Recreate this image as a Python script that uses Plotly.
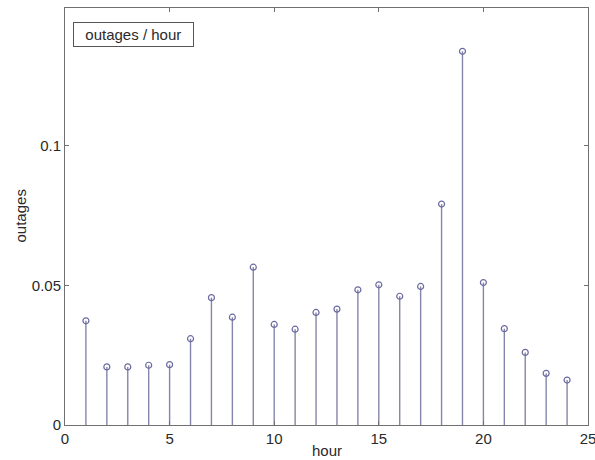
import plotly.graph_objects as go

hours = list(range(1, 25))
outages = [0.0373, 0.0208, 0.0208, 0.0214, 0.0216, 0.0309, 0.0456, 0.0386,
           0.0565, 0.0360, 0.0343, 0.0403, 0.0415, 0.0484, 0.0502, 0.0461,
           0.0496, 0.0791, 0.1338, 0.0510, 0.0345, 0.0260, 0.0185, 0.0161]
x_ticks = [0, 5, 10, 15, 20, 25]
y_ticks = [0, 0.05, 0.1]
y_tick_labels = ["0", "0.05", "0.1"]

FONT = "Liberation Sans, Arial"
TXT = "#2a2a2a"

stem_x, stem_y = [], []
for h, v in zip(hours, outages):
    stem_x += [h, h, None]
    stem_y += [0, v, None]

fig = go.Figure()
fig.add_trace(go.Scatter(x=stem_x, y=stem_y, mode="lines",
                         line=dict(color="#8585aa", width=1.4),
                         showlegend=False, hoverinfo="skip"))
fig.add_trace(go.Scatter(x=hours, y=outages, mode="markers",
                         marker=dict(symbol="circle-open", size=6,
                                     color="#6a6aa0", line=dict(width=1.2)),
                         showlegend=False))

axis_common = dict(showgrid=False, zeroline=False, showline=True, mirror="ticks",
                   linecolor="#707070", linewidth=1, ticks="inside", ticklen=4,
                   tickcolor="#707070", automargin=False, ticklabeloverflow="allow",
                   tickfont=dict(family=FONT, size=15, color=TXT))

fig.update_layout(
    width=595, height=460,
    margin=dict(l=65, r=7, t=8, b=35, pad=0),
    paper_bgcolor="white", plot_bgcolor="white",
    xaxis=dict(range=[0, 25], tickvals=x_ticks, **axis_common),
    yaxis=dict(range=[0, 0.1493], tickvals=y_ticks, ticktext=y_tick_labels,
               **axis_common),
    annotations=[
        dict(text="\u00a0\u00a0outages / hour\u00a0\u00a0", xref="paper", yref="paper",
             x=0.0147, y=0.9676, xanchor="left", yanchor="top",
             showarrow=False, bordercolor="#555", borderwidth=1,
             borderpad=3, bgcolor="white",
             font=dict(family=FONT, size=15, color=TXT)),
        dict(text="hour", xref="paper", yref="paper", x=0.5, y=0,
             xanchor="center", yanchor="middle", yshift=-25, showarrow=False,
             font=dict(family=FONT, size=15, color=TXT)),
        dict(text="outages", xref="paper", yref="paper", x=0, y=0.5,
             xanchor="center", yanchor="middle", xshift=-45, textangle=-90,
             showarrow=False, font=dict(family=FONT, size=15, color=TXT)),
    ],
)

fig.write_html("out.html", config={"displayModeBar": False},
               post_script="document.body.style.margin='0';document.body.style.overflow='hidden';")
